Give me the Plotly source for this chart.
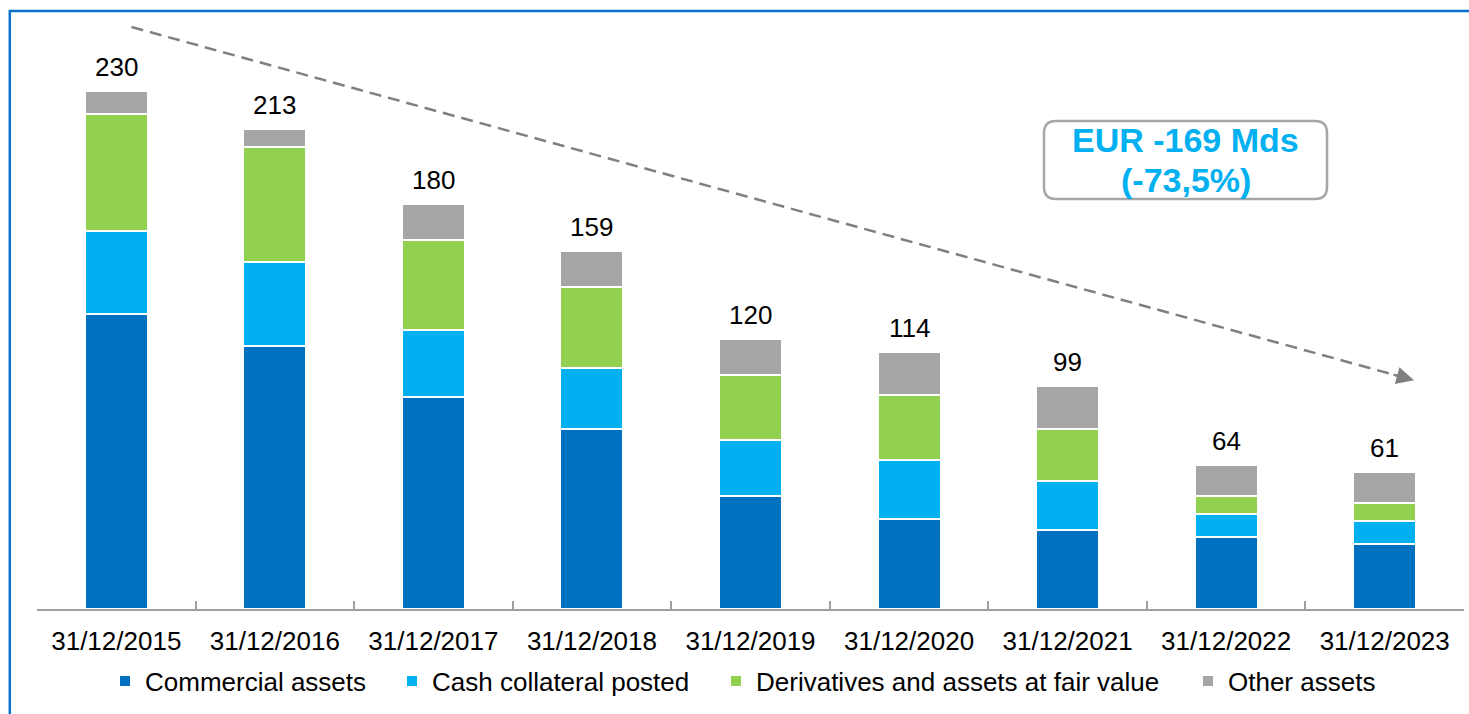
import plotly.graph_objects as go

categories = ["31/12/2015", "31/12/2016", "31/12/2017", "31/12/2018", "31/12/2019",
              "31/12/2020", "31/12/2021", "31/12/2022", "31/12/2023"]
commercial = [131, 117, 94, 80, 50, 40, 35, 32, 29]
cash_collateral = [37, 37, 30, 27, 25, 26, 22, 10, 10]
derivatives = [52, 51, 40, 36, 29, 29, 23, 8, 8]
other_assets = [10, 8, 16, 16, 16, 19, 19, 14, 14]
totals = [230, 213, 180, 159, 120, 114, 99, 64, 61]

series = [
    ("Commercial assets", commercial, "#0070C0"),
    ("Cash collateral posted", cash_collateral, "#00B0F0"),
    ("Derivatives and assets at fair value", derivatives, "#92D050"),
    ("Other assets", other_assets, "#A6A6A6"),
]

W, H = 1469, 714
L, R, T, B = 37, 5, 46, 105
PW, PH = W - L - R, H - T - B
FONT = "Liberation Sans, Arial, sans-serif"


def xp(px):
    return (px - L) / PW


def yp(py):
    return (H - B - py) / PH


fig = go.Figure()
legend_text_starts = [145, 432, 756, 1228]
legend_names = ["legend", "legend2", "legend3", "legend4"]
for i, (name, vals, col) in enumerate(series):
    fig.add_trace(go.Bar(
        x=categories, y=vals, name=name,
        marker=dict(color=col, line=dict(color="white", width=2)),
        legend=legend_names[i], showlegend=True,
    ))

# totals labels
for c, t in zip(categories, totals):
    fig.add_annotation(x=c, y=t, text=str(t), showarrow=False, yanchor="bottom",
                       yshift=7, font=dict(family=FONT, size=26, color="black"))

# dashed trend line + arrow
fig.add_shape(type="line", xref="paper", yref="paper",
              x0=xp(131.5), y0=yp(27), x1=xp(1401), y1=yp(376.7),
              line=dict(color="#808080", width=2.5, dash="12px,7px"))
fig.add_annotation(xref="paper", yref="paper", x=xp(1414), y=yp(380.3),
                   ax=-22, ay=-6.1, text="", showarrow=True, arrowhead=2,
                   arrowsize=1.4, arrowwidth=2.5, arrowcolor="#808080", standoff=0)

# rounded box
x0, x1, y0, y1, r = 1044, 1327, 121, 199, 12
path = (f"M {xp(x0 + r)},{yp(y0)} L {xp(x1 - r)},{yp(y0)} Q {xp(x1)},{yp(y0)} {xp(x1)},{yp(y0 + r)} "
        f"L {xp(x1)},{yp(y1 - r)} Q {xp(x1)},{yp(y1)} {xp(x1 - r)},{yp(y1)} "
        f"L {xp(x0 + r)},{yp(y1)} Q {xp(x0)},{yp(y1)} {xp(x0)},{yp(y1 - r)} "
        f"L {xp(x0)},{yp(y0 + r)} Q {xp(x0)},{yp(y0)} {xp(x0 + r)},{yp(y0)} Z")
fig.add_shape(type="path", xref="paper", yref="paper", path=path,
              line=dict(color="#A6A6A6", width=2.5), fillcolor="white")
fig.add_annotation(xref="paper", yref="paper", x=xp(1185.5), y=yp(139.5),
                   xanchor="center", yanchor="middle",
                   text="<b>EUR -169 Mds</b>", showarrow=False,
                   font=dict(family=FONT, size=34, color="#00B0F0"))
fig.add_annotation(xref="paper", yref="paper", x=xp(1185.5), y=yp(180),
                   xanchor="center", yanchor="middle",
                   text="<b>(-73,5%)</b>", showarrow=False,
                   font=dict(family=FONT, size=34, color="#00B0F0"))

# outer blue frame
fig.add_shape(type="rect", xref="paper", yref="paper",
              x0=xp(9.8), y0=yp(11), x1=xp(1495), y1=yp(740),
              line=dict(color="#0A72CC", width=2.5), fillcolor="rgba(0,0,0,0)")

legend_cfg = {}
for i, ln in enumerate(legend_names):
    legend_cfg[ln] = dict(
        x=xp(legend_text_starts[i] - 40), xanchor="left",
        y=yp(681), yanchor="middle", orientation="h",
        font=dict(family=FONT, size=26, color="black"),
        bgcolor="rgba(0,0,0,0)", borderwidth=0,
    )

fig.update_layout(
    width=W, height=H,
    margin=dict(l=L, r=R, t=T, b=B, autoexpand=False),
    barmode="stack", bargap=0.603,
    plot_bgcolor="white", paper_bgcolor="white",
    font=dict(family=FONT, size=26, color="black"),
    xaxis=dict(
        type="category", range=[-0.5, 8.5], showline=True, linecolor="#A0A0A0", linewidth=2,
        ticks="inside", ticklen=8, tickwidth=2, tickcolor="#A0A0A0", tickson="boundaries",
        showgrid=False, ticklabelstandoff=8,
        tickfont=dict(family=FONT, size=26, color="black"),
    ),
    yaxis=dict(range=[0, 250], visible=False, showgrid=False),
    **legend_cfg,
)

fig.write_html("out.html", config={"displayModeBar": False},
               post_script="document.body.style.margin='0';document.body.style.overflow='hidden';")
